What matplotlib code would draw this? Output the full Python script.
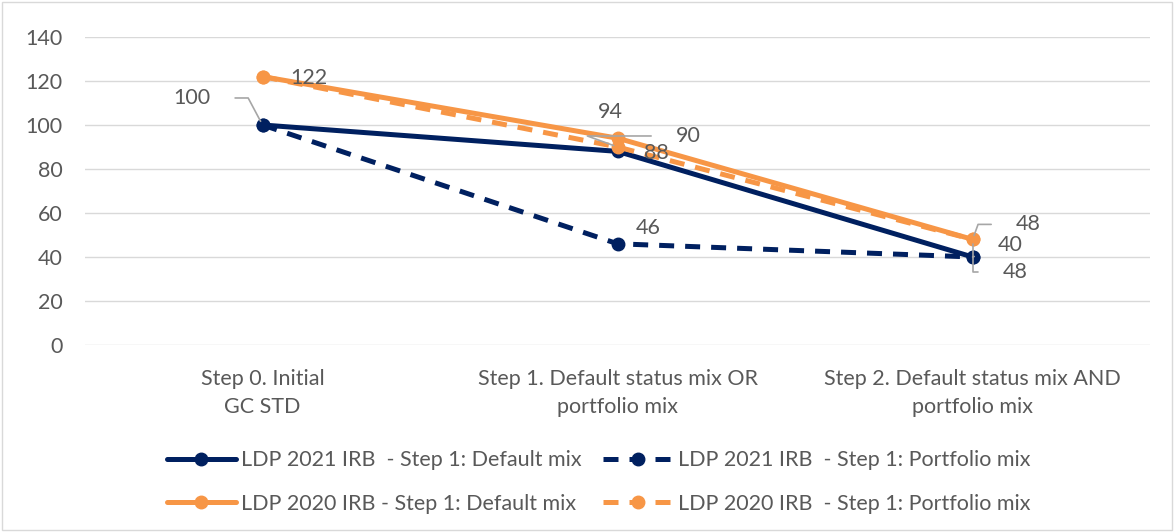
import matplotlib.pyplot as plt
import matplotlib.patches as mpatches

plt.rcParams['font.family'] = ['Lato', 'DejaVu Sans']

categories = ['Step 0. Initial\nGC STD',
              'Step 1. Default status mix OR\nportfolio mix',
              'Step 2. Default status mix AND\nportfolio mix']
series_names = ['LDP 2021 IRB  - Step 1: Default mix',
                'LDP 2021 IRB  - Step 1: Portfolio mix',
                'LDP 2020 IRB - Step 1: Default mix',
                'LDP 2020 IRB  - Step 1: Portfolio mix']
ldp2021_default = [100, 88, 40]
ldp2021_portfolio = [100, 46, 40]
ldp2020_default = [122, 94, 48]
ldp2020_portfolio = [122, 90, 48]

# (series index, category index, label text)
data_labels = [(0, 0, '100'), (2, 0, '122'),
               (2, 1, '94'), (3, 1, '90'), (0, 1, '88'), (1, 1, '46'),
               (2, 2, '48'), (0, 2, '40'), (3, 2, '48')]

navy = '#002060'
orange = '#F79646'
gray = '#595959'
fs = 15.5

fig = plt.figure(figsize=(11.76, 5.32), dpi=100)
fig.patches.append(mpatches.Rectangle((0.002, 0.003), 0.995, 0.994, transform=fig.transFigure,
                                      fill=False, edgecolor='#D9D9D9', linewidth=1))
ax = fig.add_axes([0.0723, 0.3515, 0.9057, 0.579])

x = range(len(categories))
all_series = [ldp2021_default, ldp2021_portfolio, ldp2020_default, ldp2020_portfolio]
styles = [(navy, '-'), (navy, '--'), (orange, '-'), (orange, '--')]
lines = []
for vals, (c, ls), name in zip(all_series, styles, series_names):
    ln, = ax.plot(x, vals, color=c, linestyle=ls, linewidth=3.6, marker='o', markersize=9,
                  label=name, dashes=(3, 2.2) if ls == '--' else (None, None),
                  solid_capstyle='round')
    lines.append(ln)

# label offsets in pixels, leader angle (None = no leader, 'straight' = plain line)
offsets = {
    (0, 0): (-71, 27, 118),
    (2, 0): (46, -1, None),
    (2, 1): (-7, 26, None),
    (3, 1): (71, 11, 160),
    (0, 1): (39, -2, None),
    (1, 1): (31, 16, None),
    (2, 2): (56, 15, 70),
    (0, 2): (38, 12, 'straight'),
    (3, 2): (43, -33, 90),
}
for si, ci, txt in data_labels:
    dx, dy, angB = offsets[(si, ci)]
    val = all_series[si][ci]
    kw = dict(xy=(ci, val), xytext=(dx, dy), textcoords='offset pixels',
              ha='center', va='center', fontsize=fs, color=gray)
    if angB is not None:
        conn = 'arc3' if angB == 'straight' else f'angle,angleA=0,angleB={angB},rad=0'
        kw['arrowprops'] = dict(arrowstyle='-', color='#A6A6A6', lw=1.2,
                                connectionstyle=conn, shrinkA=16, shrinkB=3)
    ax.annotate(txt, **kw)

ax.set_xlim(-0.5, 2.5)
ax.set_ylim(0, 140)
ax.set_yticks(range(0, 141, 20))
ax.set_xticks(list(x))
ax.set_xticklabels(categories, fontsize=fs, color=gray, linespacing=1.5)
ax.tick_params(axis='y', labelsize=fs, labelcolor=gray, length=0, pad=16)
ax.tick_params(axis='x', length=0, pad=17.5)
ax.grid(axis='y', color='#D9D9D9', linewidth=1)
ax.set_axisbelow(True)
for s in ax.spines.values():
    s.set_visible(False)

# legend filled row-wise like the original
order = [0, 2, 1, 3]
fig.legend([lines[i] for i in order], [series_names[i] for i in order],
           loc='center', bbox_to_anchor=(0.509, 0.094), ncol=2, frameon=False,
           fontsize=fs, handlelength=3.2, columnspacing=1.0, handletextpad=0.25,
           labelspacing=1.1, labelcolor=gray)

fig.savefig('out.png', dpi=100)
